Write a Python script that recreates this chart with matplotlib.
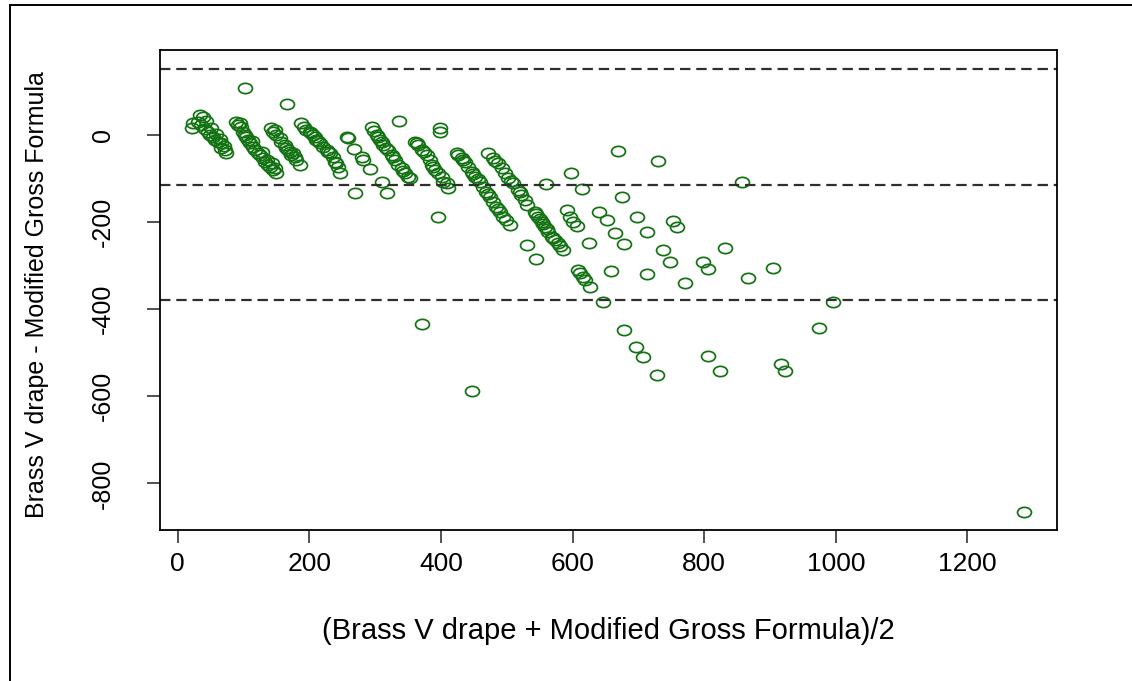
import matplotlib
matplotlib.use("Agg")
import matplotlib.pyplot as plt
from matplotlib.path import Path
from matplotlib.transforms import Affine2D
from matplotlib.lines import Line2D

# Bland-Altman data: mean of the two methods (x) and their difference (y)
mean_vals = [
    # band near 50
    33.4, 23.3, 22.3, 30.9, 36.0, 41.0, 46.0, 48.6, 53.6, 56.2, 61.2, 66.4, 66.4, 71.4, 74.0,
    38.0, 42.6, 50.0, 57.8, 63.8, 69.9,
    # isolated high values
    101.8, 166.7, 336.3,
    # band near 120
    89.2, 91.6, 96.8, 99.2, 101.8, 104.4, 106.8, 109.4, 114.4, 117.0, 122.0, 124.6, 129.6, 132.2,
    137.2, 139.8, 144.8, 150.0, 94.2, 112.5, 127.7, 135.3, 142.9, 147.4,
    # band near 165
    142.4, 144.8, 147.4, 150.0, 155.0, 157.6, 162.6, 165.2, 170.2, 172.8, 177.8, 180.4, 185.4,
    175.2, 167.6,
    # band near 215
    188.0, 195.6, 200.6, 203.2, 208.2, 210.8, 215.8, 220.8, 226.0, 231.0, 236.0, 238.6, 243.6,
    246.2, 191.5, 205.2, 212.8, 228.0, 240.0,
    # loose group 255-320
    258.8, 256.5, 267.5, 279.2, 281.6, 291.8, 269.0, 309.6, 317.2,
    # band near 320
    294.4, 302.0, 307.0, 312.0, 319.6, 324.8, 329.8, 334.8, 340.0, 345.0, 350.0, 352.6, 297.9,
    304.0, 310.0, 316.4, 326.7, 342.0,
    398.2, 398.2,
    # band near 380
    360.2, 365.2, 370.4, 378.0, 383.0, 385.6, 390.6, 395.6, 400.8, 408.4, 410.8, 403.2, 363.2,
    373.9, 387.5,
    395.6,
    # band near 460
    423.6, 431.2, 436.2, 441.2, 446.4, 451.4, 459.0, 464.0, 469.1, 474.2, 479.2, 484.3, 489.4,
    494.4, 499.5, 504.6, 425.5, 433.0, 448.0, 456.0, 471.0, 486.0,
    # band near 500
    471.6, 479.2, 486.8, 492.0, 497.0, 502.0, 509.6, 517.2, 522.3, 527.4, 530.0, 481.8, 506.0,
    519.8,
    # band near 560
    542.6, 547.6, 552.7, 557.8, 562.8, 568.0, 573.0, 578.0, 585.6, 545.0, 550.0, 554.7, 560.8,
    569.9, 580.5,
    # scattered larger values
    530.0, 544.1, 559.3, 596.8, 613.5, 590.7, 595.7, 600.8, 605.9, 625.0, 608.4, 611.0, 616.0,
    618.5, 626.1, 640.3, 651.5, 664.1, 677.8, 657.6, 645.4, 669.1, 674.3, 698.0, 712.3, 729.9,
    752.7, 758.8, 736.6, 747.7, 831.3, 798.3, 805.9, 712.3, 770.5, 866.7, 904.7, 856.7, 677.8,
    696.0, 707.1, 727.5, 806.0, 823.7, 916.0, 922.5, 995.0, 974.2, 370.4, 446.4, 1285.7,
]

diff_vals = [
    45.9, 26.9, 15.4, 30.5, 23.0, 13.1, 7.6, 0.0, -3.9, -11.5, -15.4, -19.1, -30.5, -34.4, -40.6,
    41.0, 32.0, 16.0, 2.3, -9.2, -25.0,
    107.2, 71.2, 32.8,
    30.5, 23.0, 19.1, 7.6, 0.0, -3.9, -11.5, -19.1, -26.9, -34.4, -42.0, -45.9, -53.5, -61.3,
    -68.9, -72.8, -80.4, -87.9, 27.6, -13.8, -39.0, -57.4, -64.3, -75.8,
    15.4, 7.6, 11.5, 0.0, -7.6, -15.4, -23.0, -30.5, -38.3, -45.9, -51.2, -57.4, -68.9,
    -42.0, -34.4,
    26.9, 11.5, 7.6, 3.9, -3.9, -11.5, -19.1, -26.9, -34.4, -42.0, -49.8, -61.3, -72.8,
    -87.9, 18.4, 0.0, -13.8, -39.0, -64.3,
    -7.6, -4.0, -32.8, -49.8, -57.4, -78.1, -132.5, -107.2, -132.5,
    19.1, 0.0, -11.5, -23.0, -34.4, -45.9, -57.4, -68.9, -76.5, -88.0, -95.8, -99.4, 9.2,
    -4.6, -16.0, -29.9, -50.5, -82.7,
    15.4, 7.6,
    -15.4, -23.0, -34.4, -45.9, -57.4, -68.9, -80.4, -87.9, -95.8, -110.9, -122.4, -107.2, -18.4,
    -39.0, -73.5,
    -187.6,
    -42.0, -53.5, -61.3, -72.8, -84.3, -95.8, -107.2, -118.7, -130.2, -141.7, -153.2, -164.6, -176.1,
    -187.6, -195.2, -206.7, -46.0, -57.4, -89.6, -101.0, -135.5, -170.0,
    -40.6, -53.5, -65.0, -76.5, -88.0, -99.4, -110.9, -126.3, -137.8, -149.3, -160.7, -59.7, -105.6,
    -130.9,
    -176.1, -187.6, -199.1, -210.6, -222.0, -233.5, -241.1, -248.7, -264.1, -181.4, -193.0, -204.9, -216.0,
    -236.5, -254.9,
    -252.6, -285.4, -112.5, -87.9, -124.7, -172.2, -189.0, -199.1, -209.0, -247.3, -310.0, -317.6, -325.4,
    -333.0, -348.3, -176.1, -195.2, -224.3, -250.3, -311.6, -382.8, -36.1, -141.7, -189.0, -222.0, -59.7,
    -196.8, -211.9, -264.1, -290.9, -260.2, -292.3, -308.4, -319.2, -340.5, -329.0, -304.7, -108.6, -447.8,
    -487.5, -510.4, -551.1, -506.8, -541.9, -526.5, -541.9, -384.2, -443.9, -434.0, -587.1, -866.4,
]

# mean difference and limits of agreement
bias = -114
upper_loa = 151
lower_loa = -379

x_ticks = [0, 200, 400, 600, 800, 1000, 1200]
y_ticks = [0, -200, -400, -600, -800]

x_label = "(Brass V drape + Modified Gross Formula)/2"
y_label = "Brass V drape - Modified Gross Formula"

plt.rcParams["font.family"] = ["Liberation Sans", "DejaVu Sans"]
plt.rcParams["lines.scale_dashes"] = False

W, H = 1132, 681
fig = plt.figure(figsize=(W / 100, H / 100), dpi=100)
fig.patch.set_facecolor("white")

left, right, top, bottom = 160, 1057, 50, 530
ax = fig.add_axes([left / W, 1 - bottom / H, (right - left) / W, (bottom - top) / H])

# slightly wide open circle marker
ring = Path.unit_circle().transformed(Affine2D().scale(1.0, 0.74))

ax.plot(mean_vals, diff_vals, linestyle="none", marker=ring, markersize=10,
        markerfacecolor="none", markeredgecolor="#137313", markeredgewidth=1.25)

for level in (upper_loa, bias, lower_loa):
    ax.axhline(level, color="#2e2e2e", linewidth=1.6, dashes=(7.5, 4.2))

ax.set_xlim(-27, 1336)
ax.set_ylim(-907, 195)

ax.set_xticks(x_ticks)
ax.set_xticklabels([str(v) for v in x_ticks])
ax.set_yticks(y_ticks)
ax.set_yticklabels([str(v) for v in y_ticks], rotation=90, va="center")

for s in ax.spines.values():
    s.set_linewidth(1.3)
    s.set_color("black")

ax.tick_params(axis="both", direction="out", length=9.5, width=1.1, color="#222222")
ax.tick_params(axis="x", labelsize=19, pad=6)
ax.tick_params(axis="y", labelsize=18, pad=23)

ax.set_xlabel(x_label, fontsize=21)
ax.xaxis.set_label_coords(0.5, -0.21)
ax.xaxis.label.set_va("center")
ax.set_ylabel(y_label, fontsize=18)
ax.yaxis.set_label_coords(-0.137, 0.49)
ax.yaxis.label.set_va("center")

# border around the whole picture
fig.add_artist(Line2D([10 / W, 10 / W], [0, 1 - 5 / H], transform=fig.transFigure,
                      color="black", linewidth=1.4))
fig.add_artist(Line2D([10 / W, 1], [1 - 5 / H, 1 - 5 / H], transform=fig.transFigure,
                      color="black", linewidth=1.4))

fig.savefig("out.png", dpi=100, facecolor="white")
